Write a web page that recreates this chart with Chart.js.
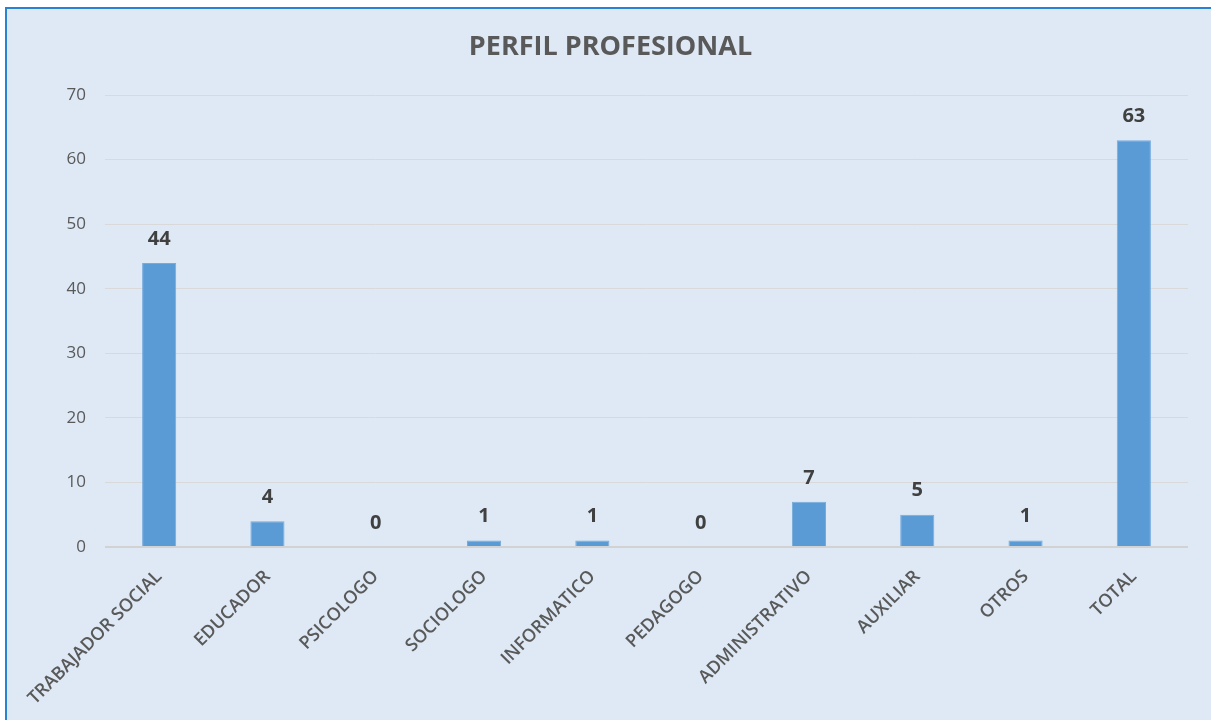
<!DOCTYPE html>
<html>
<head>
<meta charset="utf-8">
<script src="https://cdn.jsdelivr.net/npm/chart.js@4/dist/chart.umd.min.js"></script>
<style>
  html, body { margin: 0; padding: 0; background: #ffffff; width: 1211px; height: 720px; overflow: hidden; }
  #box { position: absolute; left: 5px; top: 7px; width: 1220px; height: 730px; background: #dee9f5; border-top: 2px solid #2a82d4; border-left: 2px solid #2a82d4; }
  #wrap { position: absolute; left: 0; top: 0; width: 1211px; height: 720px; }
</style>
</head>
<body>
<div id="box"></div>
<div id="wrap"><canvas id="c" width="1211" height="720"></canvas></div>
<script>
const chartTitle = "PERFIL PROFESIONAL";
const categories = ["TRABAJADOR SOCIAL", "EDUCADOR", "PSICOLOGO", "SOCIOLOGO", "INFORMATICO", "PEDAGOGO", "ADMINISTRATIVO", "AUXILIAR", "OTROS", "TOTAL"];
const values = [44, 4, 0, 1, 1, 0, 7, 5, 1, 63];
const yMin = 0, yMax = 70, yStep = 10;

const valueLabels = {
  id: 'valueLabels',
  afterDatasetsDraw(chart) {
    const ctx = chart.ctx;
    const meta = chart.getDatasetMeta(0);
    const data = chart.data.datasets[0].data;
    ctx.save();
    ctx.font = 'bold 20px "Open Sans"';
    ctx.fillStyle = '#404040';
    ctx.textAlign = 'center';
    ctx.textBaseline = 'middle';
    meta.data.forEach((bar, i) => {
      ctx.fillText(String(data[i]), bar.x, bar.y - 24);
    });
    ctx.restore();
  }
};

new Chart(document.getElementById('c'), {
  type: 'bar',
  data: {
    labels: categories,
    datasets: [{
      data: values,
      backgroundColor: '#5b9bd5',
      borderColor: '#76abdc',
      borderWidth: 1,
      categoryPercentage: 1.0,
      barPercentage: 0.315
    }]
  },
  options: {
    responsive: false,
    animation: false,
    layout: { padding: { left: 10, right: 0, top: 0, bottom: 0 } },
    plugins: {
      legend: { display: false },
      tooltip: { enabled: false },
      title: {
        display: true,
        text: chartTitle,
        color: '#595959',
        font: { family: '"Open Sans"', size: 27, weight: 'bold', lineHeight: 1.2 },
        padding: { top: 31, bottom: 31.6 }
      }
    },
    scales: {
      x: {
        offset: true,
        grid: { display: false, drawTicks: false },
        border: { display: false },
        ticks: {
          color: '#595959',
          font: { family: '"Open Sans"', size: 18, weight: '600' },
          maxRotation: 45, minRotation: 45,
          autoSkip: false,
          padding: 19
        },
        afterFit(scale) { scale.height = 173; }
      },
      y: {
        min: yMin, max: yMax,
        grid: {
          color: ctx => ctx.tick && ctx.tick.value === 0 ? '#d2d2d2' : '#d9d9d9',
          lineWidth: ctx => ctx.tick && ctx.tick.value === 0 ? 2 : 1,
          drawTicks: false
        },
        border: { display: false },
        ticks: {
          stepSize: yStep,
          color: '#595959',
          font: { family: '"Open Sans"', size: 17 },
          padding: 19
        },
        afterFit(scale) { scale.width = 95; }
      },
      yRight: {
        position: 'right',
        min: yMin, max: yMax,
        grid: { display: false, drawTicks: false },
        border: { display: false },
        ticks: { display: false },
        afterFit(scale) { scale.width = 23; }
      }
    }
  },
  plugins: [valueLabels]
});
</script>
</body>
</html>
